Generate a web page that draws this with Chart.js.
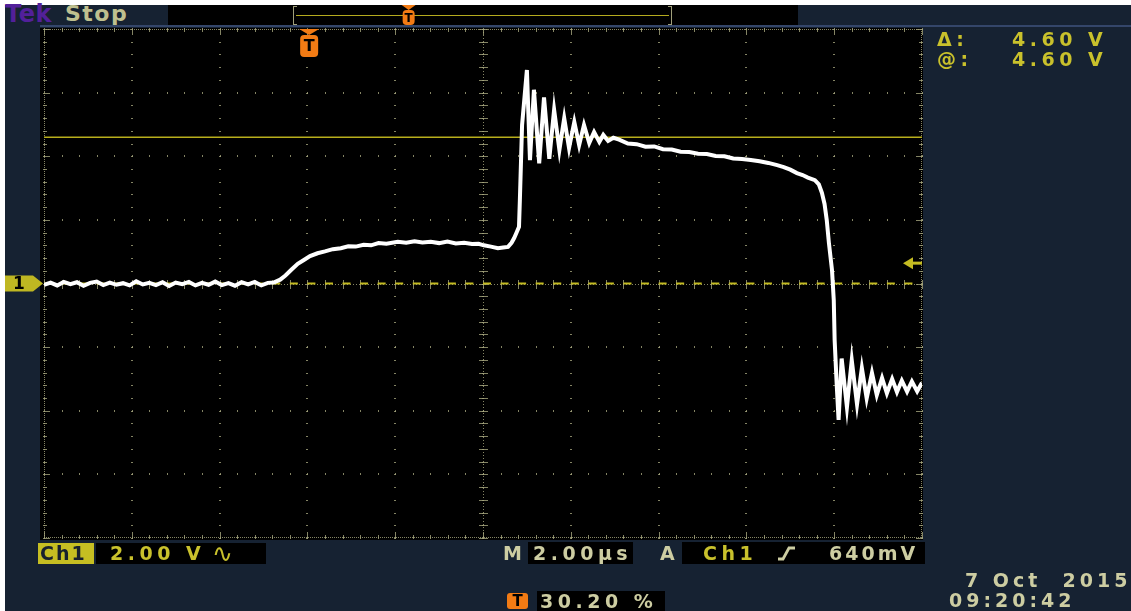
<!DOCTYPE html>
<html>
<head>
<meta charset="utf-8">
<script src="https://cdn.jsdelivr.net/npm/chart.js@4.4.1/dist/chart.umd.min.js"></script>
<style>
  html, body { margin: 0; padding: 0; background: #fff; }
  #scope { position: relative; width: 1131px; height: 611px; overflow: hidden; background: #fff;
           font-family: "DejaVu Sans", sans-serif; }
  #panel { position: absolute; left: 5px; top: 5px; width: 1126px; height: 606px; background: #162232; }
  #plot { position: absolute; left: 0; top: 0; }
  .box { position: absolute; background: #000; }
  .txt { position: absolute; white-space: pre; line-height: 1; font-size: 19px; font-weight: bold;
         letter-spacing: 4.5px; }
  .khaki { color: #cdcda2; }
  .yellow { color: #c9c12c; }
  .ticon { position: absolute; background: #f27b14; border-radius: 3px; color: #000; font-weight: bold;
           font-size: 15px; line-height: 16px; text-align: center; }
</style>
</head>
<body>
<div id="scope">
  <div id="panel"></div>

  <!-- 顶部状态栏 -->
  <div class="box" style="left:168px;top:5px;width:630px;height:20px;"></div>
  <div style="position:absolute;left:40px;top:25px;width:1091px;height:2px;background:#34466a;"></div>
  <div class="txt" style="left:5px;top:2px;font-size:24px;letter-spacing:0.5px;color:#52209a;">Tek</div>
  <div class="txt" style="left:65px;top:3px;font-size:22px;letter-spacing:1.5px;color:#bfc08f;">Stop</div>
  <div style="position:absolute;left:293px;top:6px;width:3px;height:17px;border:1px solid #a09f7a;border-right:none;"></div>
  <div style="position:absolute;left:668px;top:6px;width:3px;height:17px;border:1px solid #a09f7a;border-left:none;"></div>
  <div style="position:absolute;left:296px;top:15px;width:373px;height:1px;background:#b4aa1e;"></div>

  <canvas id="plot" width="1131" height="611"></canvas>

  <!-- 右侧光标读数 -->
  <div class="txt yellow" style="left:937px;top:30px;">Δ:</div>
  <div class="txt yellow" style="left:1012px;top:30px;">4.60 V</div>
  <div class="txt yellow" style="left:937px;top:50px;">@:</div>
  <div class="txt yellow" style="left:1012px;top:50px;">4.60 V</div>

  <!-- 底部设置栏 -->
  <div style="position:absolute;left:38px;top:543px;width:56px;height:21px;background:#c6be22;"></div>
  <div class="txt" style="left:40px;top:544px;color:#18202e;letter-spacing:2px;">Ch1</div>
  <div class="box" style="left:96px;top:543px;width:170px;height:21px;"></div>
  <div class="txt yellow" style="left:110px;top:544px;">2.00 V</div>
  <div class="txt yellow" style="left:212px;top:541px;font-size:25px;font-weight:normal;letter-spacing:0;">∿</div>

  <div class="txt khaki" style="left:503px;top:544px;">M</div>
  <div class="box" style="left:528px;top:542px;width:105px;height:22px;"></div>
  <div class="txt khaki" style="left:533px;top:544px;">2.00µs</div>
  <div class="txt khaki" style="left:660px;top:544px;">A</div>
  <div class="box" style="left:682px;top:542px;width:243px;height:22px;"></div>
  <div class="txt yellow" style="left:703px;top:544px;">Ch1</div>
  <svg style="position:absolute;left:777px;top:546px;" width="22" height="16">
    <polyline points="1,13 6,13 12,2 18,2" fill="none" stroke="#cdcda2" stroke-width="2.8"/>
  </svg>
  <div class="txt khaki" style="left:829px;top:544px;letter-spacing:3px;">640mV</div>

  <div class="ticon" style="left:507px;top:593px;width:21px;height:16px;">T</div>
  <div class="box" style="left:537px;top:591px;width:128px;height:20px;"></div>
  <div class="txt khaki" style="left:540px;top:592px;">30.20 %</div>

  <div class="txt khaki" style="left:965px;top:571px;letter-spacing:4px;">7 Oct  2015</div>
  <div class="txt khaki" style="left:949px;top:591px;letter-spacing:4px;">09:20:42</div>
</div>

<script>
// 示波器 Ch1 波形（2.00 V/div, 2.00 µs/div）
const timeMin = 0, timeMax = 20, timeDiv = 2;   // µs
const voltMin = -8, voltMax = 8, voltDiv = 2;   // V
const cursorLevel = 4.60;    // 光标电平 V
const triggerLevel = 0.64;   // 触发电平 V
const triggerPercent = 30.20;

// 波形采样点（从截图读取）
const traceTime = [
  0.00, 0.15, 0.30, 0.45, 0.60, 0.75, 0.90, 1.05, 1.20, 1.35,
  1.50, 1.65, 1.80, 1.95, 2.10, 2.25, 2.40, 2.55, 2.70, 2.85,
  3.00, 3.15, 3.30, 3.45, 3.60, 3.75, 3.90, 4.05, 4.20, 4.35,
  4.50, 4.65, 4.80, 4.95, 5.10,
  5.23, 5.38, 5.50, 5.64, 5.78, 5.92, 6.06, 6.23, 6.40, 6.58,
  6.76, 6.93, 7.10, 7.28, 7.45, 7.62, 7.80, 8.06, 8.25, 8.44,
  8.62, 8.81, 9.00, 9.19, 9.38, 9.57, 9.75, 9.90, 10.02, 10.18,
  10.34, 10.46, 10.57, 10.65, 10.71, 10.77, 10.82,
  10.84, 10.89, 11.00, 11.07, 11.16, 11.28, 11.39, 11.51, 11.62, 11.74,
  11.85, 11.96, 12.08, 12.19, 12.30, 12.42, 12.53, 12.65, 12.74, 12.85,
  12.97,
  13.10, 13.30, 13.50, 13.70, 13.90, 14.10, 14.30, 14.50, 14.70, 14.90,
  15.10, 15.30, 15.50, 15.70, 15.90, 16.10, 16.30, 16.50, 16.70, 16.85,
  17.00, 17.15, 17.28, 17.40, 17.56, 17.65, 17.72, 17.78, 17.83, 17.88,
  17.95, 17.99, 18.01, 18.06, 18.10,
  18.17, 18.29, 18.40, 18.52, 18.63, 18.74, 18.86, 18.97, 19.09, 19.20,
  19.32, 19.43, 19.54, 19.66, 19.77, 19.89, 20.00
];
const traceVolts = [
  -0.04, 0.03, -0.06, 0.05, -0.02, 0.04, -0.07, 0.02, 0.06, -0.05,
  0.03, -0.04, 0.01, -0.06, 0.07, -0.03, 0.02, -0.05, 0.04, -0.08,
  0.03, -0.02, 0.05, -0.06, 0.02, -0.04, 0.06, -0.05, 0.01, -0.07,
  0.04, -0.03, 0.05, -0.06, 0.02,
  0.03, 0.12, 0.25, 0.44, 0.62, 0.74, 0.86, 0.95, 1.01, 1.08,
  1.11, 1.17, 1.16, 1.22, 1.20, 1.27, 1.25, 1.31, 1.28, 1.33,
  1.29, 1.31, 1.27, 1.32, 1.26, 1.28, 1.24, 1.25, 1.20, 1.16,
  1.11, 1.13, 1.15, 1.28, 1.43, 1.62, 1.78,
  2.63, 4.98, 6.71, 3.88, 6.09, 3.78, 5.85, 3.92, 5.46, 4.20,
  5.20, 4.26, 5.08, 4.35, 4.98, 4.42, 4.76, 4.45, 4.67, 4.48,
  4.58,
  4.52, 4.40, 4.38, 4.30, 4.31, 4.22, 4.21, 4.14, 4.13, 4.08,
  4.07, 4.01, 4.00, 3.93, 3.91, 3.88, 3.84, 3.79, 3.72, 3.66,
  3.58, 3.47, 3.41, 3.33, 3.25, 3.12, 2.85, 2.50, 2.00, 1.27,
  0.42, -0.52, -1.78, -3.26, -4.29,
  -2.36, -3.89, -2.41, -3.80, -2.66, -3.61, -2.81, -3.51, -2.97, -3.45,
  -3.00, -3.41, -3.05, -3.40, -3.08, -3.39, -3.12
];

const triggerTime = timeMax * triggerPercent / 100;
const gridColor = 'rgba(165,165,125,0.8)';
const scopeYellow = '#c4bb22';
const scopeOrange = '#f27b14';

// 画触发标记 T（倒三角 + 圆角方块）
function drawTMark(ctx, cx, top, w, triH, boxH, fontSize) {
  ctx.fillStyle = scopeOrange;
  ctx.beginPath();
  ctx.moveTo(cx - w / 2, top);
  ctx.lineTo(cx + w / 2, top);
  ctx.lineTo(cx, top + triH);
  ctx.closePath();
  ctx.fill();
  ctx.beginPath();
  ctx.roundRect(cx - w / 2 + 1, top + triH, w - 2, boxH, 4);
  ctx.fill();
  ctx.fillStyle = '#000';
  ctx.font = 'bold ' + fontSize + 'px "DejaVu Sans"';
  ctx.textAlign = 'center';
  ctx.textBaseline = 'middle';
  ctx.fillText('T', cx, top + triH + boxH / 2 + 1);
}

const graticule = {
  id: 'graticule',
  beforeDatasetsDraw(chart) {
    const { ctx, chartArea: a, scales } = chart;
    const xs = scales.x, ys = scales.y;
    const minorT = timeDiv / 5, minorV = voltDiv / 5;
    const nT = Math.round((timeMax - timeMin) / minorT);
    const nV = Math.round((voltMax - voltMin) / minorV);
    ctx.save();
    ctx.fillStyle = '#000';
    ctx.fillRect(a.left - 4, a.top - 1, a.right - a.left + 5, a.bottom - a.top + 3);

    ctx.fillStyle = gridColor;
    // 竖直主格线上的点
    for (let i = 0; i <= nT; i += 5) {
      const px = Math.round(xs.getPixelForValue(timeMin + i * minorT));
      for (let j = 0; j <= nV; j++) {
        const py = Math.round(ys.getPixelForValue(voltMin + j * minorV));
        ctx.fillRect(px - 1, py, 2, 1);
      }
    }
    // 水平主格线上的点
    for (let j = 0; j <= nV; j += 5) {
      const py = Math.round(ys.getPixelForValue(voltMin + j * minorV));
      for (let i = 0; i <= nT; i++) {
        const px = Math.round(xs.getPixelForValue(timeMin + i * minorT));
        ctx.fillRect(px, py - 1, 1, 2);
      }
    }
    // 边框点线
    const L = Math.round(a.left), R = Math.round(a.right), T = Math.round(a.top), B = Math.round(a.bottom);
    for (let px = L; px <= R; px += 2) {
      ctx.fillRect(px, T, 1, 1);
      ctx.fillRect(px, B - 1, 1, 1);
    }
    for (let py = T; py <= B; py += 2) {
      ctx.fillRect(L, py, 1, 1);
      ctx.fillRect(R - 1, py, 1, 1);
    }
    // 边框刻度
    for (let i = 0; i <= nT; i++) {
      const px = Math.round(xs.getPixelForValue(timeMin + i * minorT));
      const len = i % 5 === 0 ? 6 : 3;
      ctx.fillRect(px, T, 1, len);
      ctx.fillRect(px, B - len, 1, len);
    }
    for (let j = 0; j <= nV; j++) {
      const py = Math.round(ys.getPixelForValue(voltMin + j * minorV));
      const len = j % 5 === 0 ? 6 : 3;
      ctx.fillRect(L, py, len, 1);
      ctx.fillRect(R - len, py, len, 1);
    }
    // 中心十字
    const cx = Math.round(xs.getPixelForValue((timeMin + timeMax) / 2));
    const cy = Math.round(ys.getPixelForValue((voltMin + voltMax) / 2));
    for (let py = T; py <= B; py += 3) ctx.fillRect(cx, py, 1, 1);
    for (let px = L; px <= R; px += 3) ctx.fillRect(px, cy, 1, 1);
    for (let j = 0; j <= nV; j++) {
      const py = Math.round(ys.getPixelForValue(voltMin + j * minorV));
      ctx.fillRect(cx - 4, py, 9, 1);
    }
    for (let i = 0; i <= nT; i++) {
      const px = Math.round(xs.getPixelForValue(timeMin + i * minorT));
      ctx.fillRect(px, cy - 4, 1, 9);
    }
    ctx.restore();
  },
  afterDatasetsDraw(chart) {
    const { ctx, chartArea: a, scales } = chart;
    const xs = scales.x, ys = scales.y;
    ctx.save();
    // 触发位置标记
    drawTMark(ctx, xs.getPixelForValue(triggerTime), a.top, 20, 6, 22, 16);
    // 记录视图中的触发标记
    drawTMark(ctx, 296 + (669 - 296) * triggerPercent / 100, 5, 14, 5, 15, 12);
    // 触发电平箭头
    const ty = ys.getPixelForValue(triggerLevel);
    ctx.fillStyle = scopeYellow;
    ctx.beginPath();
    ctx.moveTo(a.right - 19, ty);
    ctx.lineTo(a.right - 9, ty - 6);
    ctx.lineTo(a.right - 9, ty + 6);
    ctx.closePath();
    ctx.fill();
    ctx.fillRect(a.right - 10, ty - 1.5, 10, 3);
    // 通道 1 地电平标记
    const gy = ys.getPixelForValue(0);
    ctx.beginPath();
    ctx.moveTo(5, gy - 8);
    ctx.lineTo(33, gy - 8);
    ctx.lineTo(a.left - 1, gy);
    ctx.lineTo(33, gy + 8);
    ctx.lineTo(5, gy + 8);
    ctx.closePath();
    ctx.fillStyle = '#bfb722';
    ctx.fill();
    ctx.fillStyle = '#000';
    ctx.font = 'bold 17px "DejaVu Sans"';
    ctx.textAlign = 'center';
    ctx.textBaseline = 'middle';
    ctx.fillText('1', 19, gy + 1);
    ctx.restore();
  }
};

const tracePoints = traceTime.map((t, i) => ({ x: t, y: traceVolts[i] }));

new Chart(document.getElementById('plot'), {
  type: 'line',
  data: {
    datasets: [
      {
        label: 'Ch1',
        data: tracePoints,
        borderColor: '#ffffff',
        borderWidth: 4,
        pointRadius: 0,
        tension: 0
      },
      {
        label: 'cursor',
        data: [{ x: timeMin, y: cursorLevel }, { x: timeMax, y: cursorLevel }],
        borderColor: '#b8ae1c',
        borderWidth: 1.5,
        pointRadius: 0
      },
      {
        label: 'ground',
        data: [{ x: timeMin, y: 0 }, { x: timeMax, y: 0 }],
        borderColor: scopeYellow,
        borderWidth: 2,
        borderDash: [8, 9.56],
        pointRadius: 0
      }
    ]
  },
  options: {
    responsive: false,
    animation: false,
    layout: { padding: { left: 44, top: 29, right: 209, bottom: 73 } },
    plugins: { legend: { display: false }, tooltip: { enabled: false } },
    scales: {
      x: { type: 'linear', min: timeMin, max: timeMax, display: false },
      y: { type: 'linear', min: voltMin, max: voltMax, display: false }
    }
  },
  plugins: [graticule]
});
</script>
</body>
</html>
